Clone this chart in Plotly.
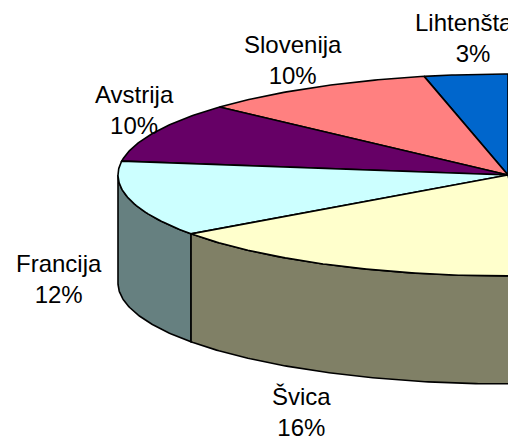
import numpy as np
import plotly.graph_objects as go

categories = ["Lihtenštajn", "Slovenija", "Avstrija", "Francija", "Švica"]
shares = [3.45, 9.8, 9.55, 12.1, 16.0]
top_colors = ["#0066CC", "#FF8080", "#660066", "#CCFFFF", "#FFFFCC"]
side_colors = ["#003366", "#804040", "#330033", "#668080", "#808066"]
label_x = [473, 293, 134, 59, 301]
label_y = [38, 60, 110, 279, 412]

WIDTH, HEIGHT = 508, 437
CX, CY = 508, 175
RX, RY = 390, 101
DEPTH = 108
START_DEG = 0.0
OUTLINE = dict(color="black", width=1.6)


def arc(t0, t1):
    t = np.radians(np.linspace(t0, t1, max(2, int(abs(t1 - t0) * 2) + 1)))
    return CX - RX * np.sin(t), CY - RY * np.cos(t)


fig = go.Figure()
edges = START_DEG + np.cumsum([0] + [s * 3.6 for s in shares])

# Side walls: only the front half of the rim (90 to 270 degrees) is visible
for i in range(len(shares)):
    t0, t1 = max(edges[i], 90), min(edges[i + 1], 270)
    if t1 <= t0:
        continue
    ax, ay = arc(t0, t1)
    x = np.concatenate([ax, ax[::-1], ax[:1]])
    y = np.concatenate([ay, ay[::-1] + DEPTH, ay[:1]])
    fig.add_trace(go.Scatter(x=x, y=y, mode="lines", fill="toself",
                             fillcolor=side_colors[i], line=OUTLINE,
                             hoverinfo="skip", showlegend=False))

# Top faces
for i in range(len(shares)):
    ax, ay = arc(edges[i], edges[i + 1])
    x = np.concatenate([[CX], ax, [CX]])
    y = np.concatenate([[CY], ay, [CY]])
    fig.add_trace(go.Scatter(x=x, y=y, mode="lines", fill="toself",
                             fillcolor=top_colors[i], line=OUTLINE,
                             hoverinfo="skip", showlegend=False))

for name, share, lx, ly in zip(categories, shares, label_x, label_y):
    fig.add_annotation(x=lx, y=ly, xref="x", yref="y", showarrow=False,
                       text=f"{name}<br>{round(share)}%", align="center",
                       font=dict(family="Liberation Sans", size=24, color="black"))

fig.update_xaxes(range=[0, WIDTH], visible=False, fixedrange=True)
fig.update_yaxes(range=[HEIGHT, 0], visible=False, fixedrange=True)
fig.update_layout(width=WIDTH, height=HEIGHT, margin=dict(l=0, r=0, t=0, b=0),
                  paper_bgcolor="white", plot_bgcolor="white", showlegend=False)
fig.write_html("out.html", config={"displayModeBar": False},
               post_script="document.body.style.margin='0';document.body.style.overflow='hidden';")
